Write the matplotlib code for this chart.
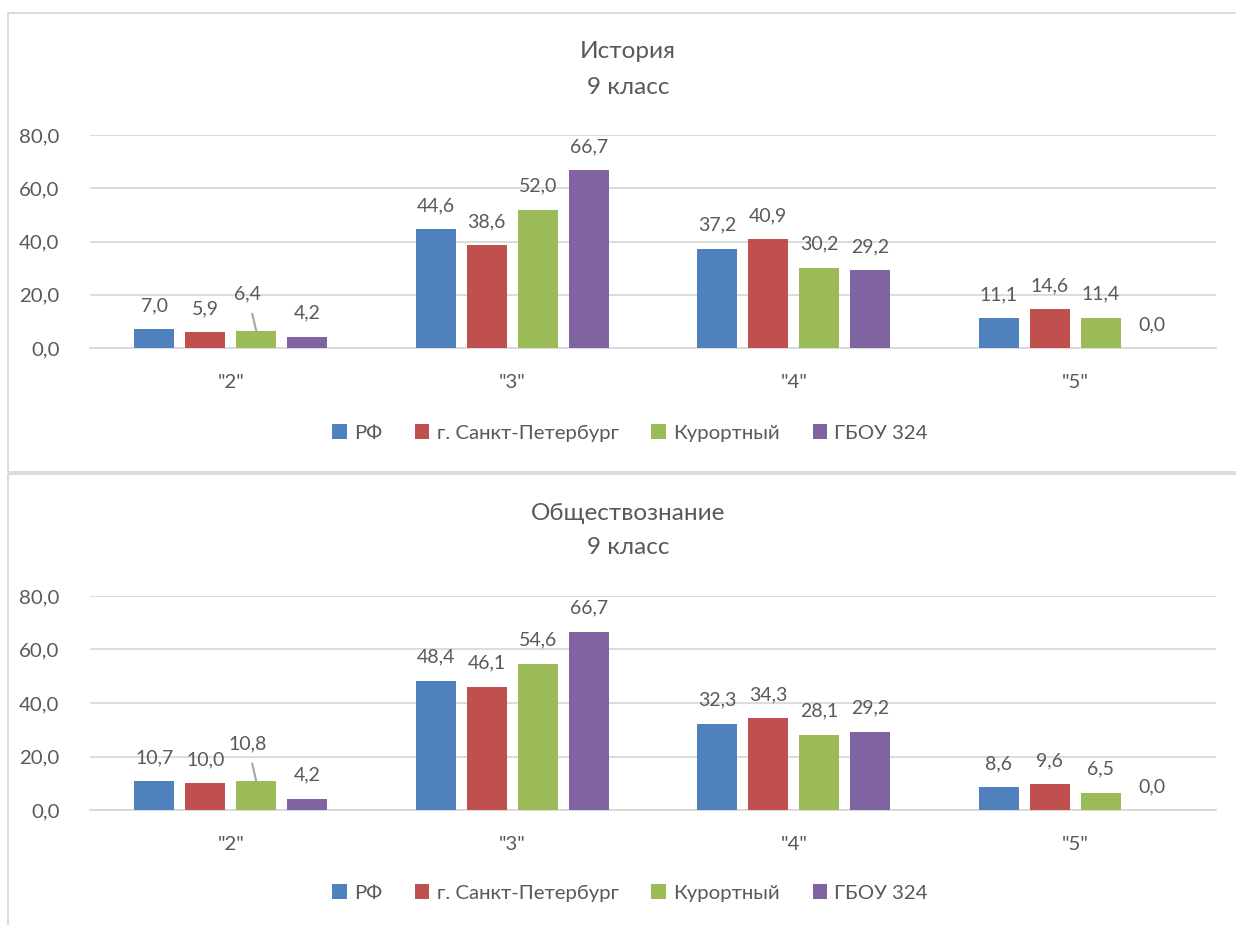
import matplotlib
matplotlib.use("Agg")
import matplotlib.pyplot as plt
from matplotlib.patches import Rectangle
import numpy as np

categories = ['"2"', '"3"', '"4"', '"5"']
series_names = ["РФ", "г. Санкт-Петербург", "Курортный", "ГБОУ 324"]
colors = ["#4F81BD", "#C0504D", "#9BBB59", "#8064A2"]

hist_rf = [7.0, 44.6, 37.2, 11.1]
hist_spb = [5.9, 38.6, 40.9, 14.6]
hist_kur = [6.4, 52.0, 30.2, 11.4]
hist_school = [4.2, 66.7, 29.2, 0.0]

soc_rf = [10.7, 48.4, 32.3, 8.6]
soc_spb = [10.0, 46.1, 34.3, 9.6]
soc_kur = [10.8, 54.6, 28.1, 6.5]
soc_school = [4.2, 66.7, 29.2, 0.0]

titles = [("История", "9 класс"), ("Обществознание", "9 класс")]
yticks = [0, 20, 40, 60, 80]

plt.rcParams['font.family'] = ['Lato', 'DejaVu Sans']
TXT = "#595959"
GRID = "#D9D9D9"

fig = plt.figure(figsize=(12.36, 9.25), dpi=100)
W, H = 1236, 925

def fx(x): return x / W
def fy(y): return 1 - y / H

# chart borders
fig.patches.append(Rectangle((fx(8), fy(472)), fx(1240) - fx(8), fy(13) - fy(472),
                             transform=fig.transFigure, fill=False, ec=GRID, lw=1.3))
fig.patches.append(Rectangle((fx(8), fy(935)), fx(1240) - fx(8), fy(474) - fy(935),
                             transform=fig.transFigure, fill=False, ec=GRID, lw=1.3))

datasets = [
    [hist_rf, hist_spb, hist_kur, hist_school],
    [soc_rf, soc_spb, soc_kur, soc_school],
]
layouts = [
    dict(top=135, bottom=348, t1=52, t2=87, legend=433),
    dict(top=596, bottom=810, t1=513, t2=548, legend=893),
]

bw = 0.142
step = 0.181
x = np.arange(len(categories))

for data, lay, title in zip(datasets, layouts, titles):
    ax = fig.add_axes([fx(90), fy(lay['bottom']), fx(1216) - fx(90), fy(lay['top']) - fy(lay['bottom'])])
    handles = []
    for i, (vals, c, name) in enumerate(zip(data, colors, series_names)):
        pos = x + (i - 1.5) * step
        h = ax.bar(pos, vals, width=bw, color=c, label=name, zorder=3)
        handles.append(h)
        for j, (p, v) in enumerate(zip(pos, vals)):
            lbl = f"{v:.1f}".replace(".", ",")
            if i == 2 and j == 0:
                # label lifted with leader line
                ax.annotate(lbl, xy=(p, v), xytext=(p - 0.03, v + 13.8),
                            ha="center", va="center", fontsize=14, color=TXT,
                            arrowprops=dict(arrowstyle="-", color="#A6A6A6", lw=1.5,
                                            shrinkA=6, shrinkB=0))
            else:
                ax.annotate(lbl, xy=(p, v), xytext=(0, 17), textcoords="offset points",
                            ha="center", va="center", fontsize=14, color=TXT)
    ax.set_xlim(-0.5, 3.5)
    ax.set_ylim(0, 80)
    ax.set_yticks(yticks)
    ax.set_yticklabels([f"{t:.1f}".replace(".", ",") for t in yticks])
    ax.set_xticks(x)
    ax.set_xticklabels(categories)
    ax.tick_params(axis="both", length=0, labelsize=14.7, colors=TXT)
    ax.tick_params(axis="y", pad=22)
    ax.tick_params(axis="x", pad=19)
    ax.grid(axis="y", color=GRID, lw=1.3, zorder=0)
    for s in ["top", "right", "left"]:
        ax.spines[s].set_visible(False)
    ax.spines["bottom"].set_color(GRID)
    ax.spines["bottom"].set_linewidth(1.3)
    ax.set_facecolor("none")

    fig.text(fx(628), fy(lay['t1']), title[0], ha="center", va="center",
             fontsize=17.5, color=TXT)
    fig.text(fx(628), fy(lay['t2']), title[1], ha="center", va="center",
             fontsize=17.5, color=TXT)
    fig.legend(handles=handles, labels=series_names, loc="center",
               bbox_to_anchor=(fx(630), fy(lay['legend'])), ncol=4, frameon=False,
               fontsize=14.7, labelcolor=TXT, handlelength=0.72, handleheight=0.72,
               handletextpad=0.35, columnspacing=1.6)

fig.savefig("out.png", dpi=100)
